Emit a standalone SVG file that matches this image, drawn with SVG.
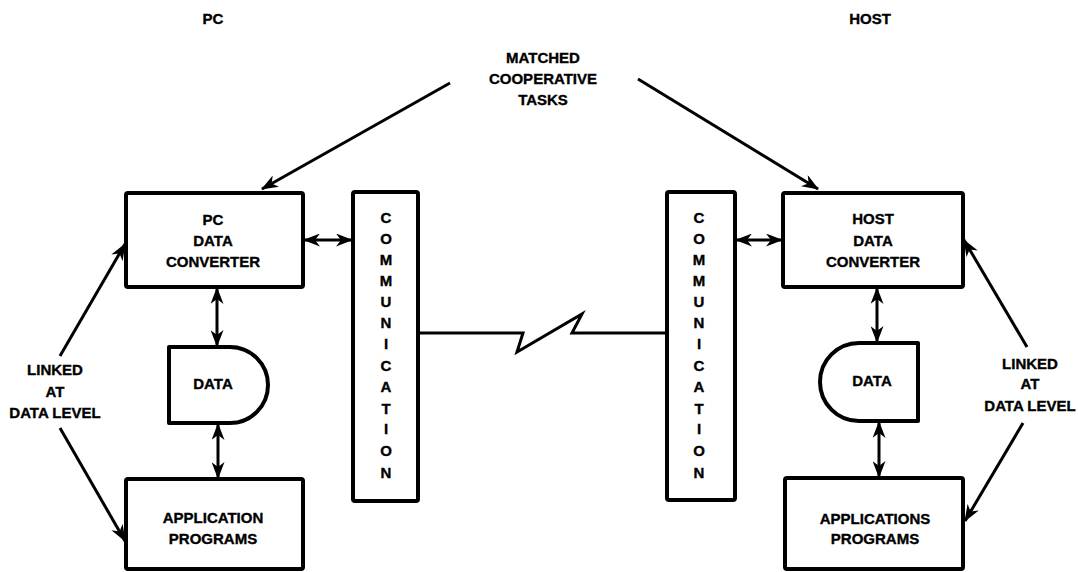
<svg xmlns="http://www.w3.org/2000/svg" width="1078" height="572" viewBox="0 0 1078 572">
<defs>
<style>
text{font-family:"Liberation Sans",Arial,sans-serif;font-weight:bold;font-size:15px;fill:#000;stroke:#000;stroke-width:0.35;text-anchor:middle;dominant-baseline:central}
.box{fill:#fff;stroke:#000;stroke-width:4;stroke-linejoin:round}
.con{fill:none;stroke:#000;stroke-width:3}
.arr{fill:none;stroke:#000;stroke-width:3;marker-end:url(#ah)}
.dbl{fill:none;stroke:#000;stroke-width:3;marker-start:url(#ahs);marker-end:url(#ah)}
</style>
<marker id="ah" viewBox="0 0 17 13" refX="16" refY="6.5" markerWidth="17" markerHeight="13" markerUnits="userSpaceOnUse" orient="auto">
<path d="M0,0 L17,6.5 L0,13 L5,6.5 Z" fill="#000"/>
</marker>
<marker id="ahs" viewBox="0 0 17 13" refX="16" refY="6.5" markerWidth="17" markerHeight="13" markerUnits="userSpaceOnUse" orient="auto-start-reverse">
<path d="M0,0 L17,6.5 L0,13 L5,6.5 Z" fill="#000"/>
</marker>
</defs>
<rect width="1078" height="572" fill="#fff"/>

<g id="labels">
<text x="213" y="18">PC</text>
<text x="870" y="18">HOST</text>
</g>

<g id="matched">
<text x="543" y="57">MATCHED</text>
<text x="543" y="78">COOPERATIVE</text>
<text x="543" y="99">TASKS</text>
</g>

<g id="linked-pc">
<text x="55" y="369">LINKED</text>
<text x="55" y="391">AT</text>
<text x="55" y="412">DATA LEVEL</text>
</g>
<g id="linked-host">
<text x="1030" y="363">LINKED</text>
<text x="1030" y="383">AT</text>
<text x="1030" y="405">DATA LEVEL</text>
</g>

<g id="connectors">
<line class="arr" x1="450" y1="83" x2="262" y2="189"/>
<line class="arr" x1="638" y1="79" x2="818" y2="189"/>
<line class="arr" x1="60" y1="356" x2="125" y2="244"/>
<line class="arr" x1="60" y1="428" x2="125" y2="541"/>
<line class="arr" x1="1027" y1="347" x2="964" y2="240"/>
<line class="arr" x1="1023" y1="423" x2="965" y2="521"/>
<line class="dbl" x1="304" y1="240" x2="352" y2="240"/>
<line class="dbl" x1="736" y1="240" x2="782" y2="240"/>
<line class="dbl" x1="217" y1="288" x2="217" y2="346"/>
<line class="dbl" x1="218" y1="424" x2="218" y2="478"/>
<line class="dbl" x1="877" y1="288" x2="877" y2="342"/>
<line class="dbl" x1="879" y1="422" x2="879" y2="477"/>
<polyline class="con" points="418,333 523,333 517,352 582,314 572,333 667,333"/>
</g>

<g id="pc-converter">
<rect class="box" x="126" y="193" width="177" height="94" rx="2"/>
<text x="213" y="219">PC</text>
<text x="213" y="240">DATA</text>
<text x="213" y="261">CONVERTER</text>
</g>

<g id="pc-data">
<path class="box" d="M169,347 H230 A38,38 0 0 1 230,423 H169 Z"/>
<text x="213" y="383">DATA</text>
</g>

<g id="pc-apps">
<rect class="box" x="126" y="479" width="177" height="90" rx="2"/>
<text x="213" y="517">APPLICATION</text>
<text x="213" y="538">PROGRAMS</text>
</g>

<g id="pc-comm">
<rect class="box" x="353" y="192" width="65" height="309" rx="2"/>
<text x="386" y="217">C</text>
<text x="386" y="238">O</text>
<text x="386" y="259">M</text>
<text x="386" y="280">M</text>
<text x="386" y="301">U</text>
<text x="386" y="322">N</text>
<text x="386" y="343">I</text>
<text x="386" y="365">C</text>
<text x="386" y="386">A</text>
<text x="386" y="408">T</text>
<text x="386" y="428">I</text>
<text x="386" y="450">O</text>
<text x="386" y="472">N</text>
</g>

<g id="host-comm">
<rect class="box" x="667" y="192" width="68" height="308" rx="2"/>
<text x="699" y="217">C</text>
<text x="699" y="238">O</text>
<text x="699" y="259">M</text>
<text x="699" y="280">M</text>
<text x="699" y="301">U</text>
<text x="699" y="322">N</text>
<text x="699" y="343">I</text>
<text x="699" y="365">C</text>
<text x="699" y="386">A</text>
<text x="699" y="408">T</text>
<text x="699" y="428">I</text>
<text x="699" y="450">O</text>
<text x="699" y="472">N</text>
</g>

<g id="host-converter">
<rect class="box" x="783" y="193" width="180" height="94" rx="2"/>
<text x="873" y="218">HOST</text>
<text x="873" y="240">DATA</text>
<text x="873" y="261">CONVERTER</text>
</g>

<g id="host-data">
<path class="box" d="M918,343 V421 H859 A39,39 0 0 1 859,343 Z"/>
<text x="872" y="380">DATA</text>
</g>

<g id="host-apps">
<rect class="box" x="785" y="478" width="178" height="91" rx="2"/>
<text x="875" y="518">APPLICATIONS</text>
<text x="875" y="538">PROGRAMS</text>
</g>
</svg>
